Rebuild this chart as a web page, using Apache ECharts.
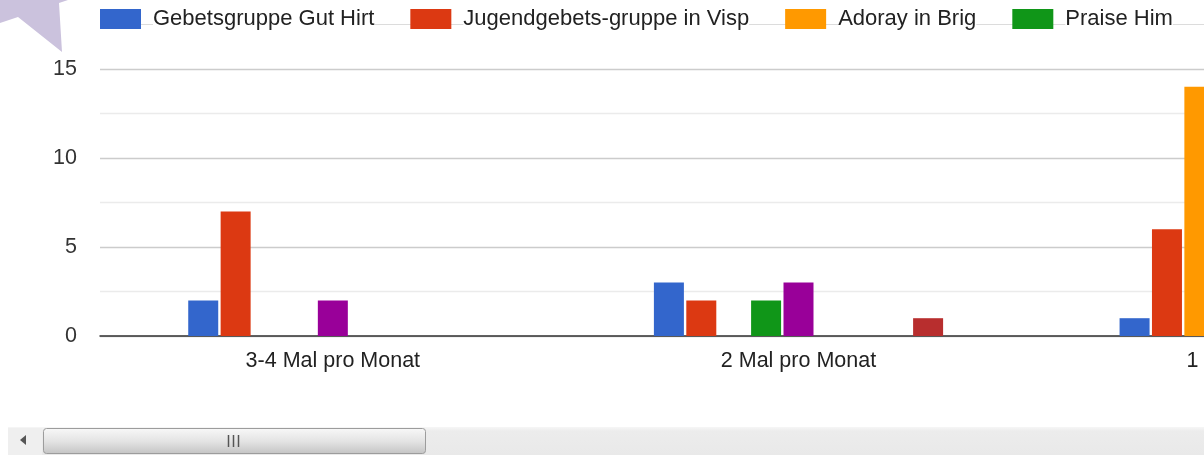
<!DOCTYPE html>
<html>
<head>
<meta charset="utf-8">
<title>Gebetsgruppen</title>
<script src="https://cdn.jsdelivr.net/npm/echarts@6/dist/echarts.min.js"></script>
<style>
    html, body { margin: 0; padding: 0; background: #fff; overflow: hidden; }
    /* Diagramm ist breiter als das Fenster, rechts abgeschnitten wie im Original */
    #chart { width: 1504px; height: 455px; }
</style>
</head>
<body>
<div id="chart"></div>
<script>
    // Kategorien (x-Achse)
    const categories = ['3-4 Mal pro Monat', '2 Mal pro Monat', '1 Mal pro Monat']
    // Namen der Gruppen (nur die ersten vier sind in der Legende sichtbar)
    const groupNames = ['Gebetsgruppe Gut Hirt', 'Jugendgebets-gruppe in Visp', 'Adoray in Brig', 'Praise Him',
        'Gruppe 5', 'Gruppe 6', 'Gruppe 7', 'Gruppe 8', 'Gruppe 9']
    // Werte je Gruppe, pro Kategorie (null = nicht sichtbar / unbekannt)
    const gutHirt = [2, 3, 1]
    const jugendVisp = [7, 2, 6]
    const adorayBrig = [0, 0, 14]
    const praiseHim = [0, 2, null]
    const gruppe5 = [2, 3, null]
    const gruppe6 = [0, 0, null]
    const gruppe7 = [0, 0, null]
    const gruppe8 = [0, 0, null]
    const gruppe9 = [0, 1, null]
    const allValues = [gutHirt, jugendVisp, adorayBrig, praiseHim, gruppe5, gruppe6, gruppe7, gruppe8, gruppe9]
    // y-Achse
    const yTickLabels = [0, 5, 10, 15]

    const colors = ['#3366cc', '#dc3912', '#ff9900', '#109618', '#990099', '#0099c6', '#dd4477', '#66aa00', '#b82e2e']
    const fontFamily = 'Arial, "Liberation Sans", sans-serif'

    const chartInstance = echarts.init(document.getElementById('chart'))

    const option = {
        animation: false,
        color: colors,
        textStyle: { fontFamily: fontFamily },
        legend: {
            data: groupNames.slice(0, 4),
            left: 100,
            top: 7,
            padding: 0,
            itemWidth: 41,
            itemHeight: 20,
            itemGap: 36,
            icon: 'rect',
            formatter: name => '{g|}{t|' + name + '}',
            textStyle: {
                rich: {
                    g: { width: 7 },
                    t: { backgroundColor: '#fff', color: '#222', fontSize: 22, fontFamily: fontFamily, padding: [1, 0, 1, 0] }
                }
            }
        },
        grid: {
            left: 100,
            right: 7,
            top: 69,
            bottom: 119,
            containLabel: false
        },
        xAxis: {
            type: 'category',
            data: categories,
            axisTick: { show: false },
            axisLine: { lineStyle: { color: '#333', width: 1.5 } },
            axisLabel: { color: '#222', fontSize: 21.5, margin: 14 }
        },
        yAxis: {
            type: 'value',
            min: 0,
            max: 15,
            interval: 2.5,
            axisLine: { show: false },
            axisTick: { show: false },
            axisLabel: {
                color: '#333',
                fontSize: 21.5,
                margin: 23,
                formatter: v => yTickLabels.indexOf(v) >= 0 ? String(v) : ''
            },
            splitLine: { lineStyle: { color: ['#cccccc', '#ebebeb'], width: 1.3 } }
        },
        series: allValues.map((values, i) => ({
            name: groupNames[i],
            type: 'bar',
            data: values,
            barWidth: 30,
            barGap: '8%'
        })),
        graphic: [
            // Linie hinter der Legende
            { type: 'line', z: 0, shape: { x1: 141, y1: 24.5, x2: 1504, y2: 24.5 }, style: { stroke: '#dcdcdc', lineWidth: 1 } },
            // lila Stern-Ecke oben links
            { type: 'polygon', z: 10, shape: { points: [[0, 0], [68, 0], [59, 3], [62, 52], [18, 17], [0, 23]] }, style: { fill: '#cbc2dd' } },
            // Scrollleiste unten
            {
                type: 'rect', z: 10, shape: { x: 8, y: 427, width: 1500, height: 28 },
                style: { fill: new echarts.graphic.LinearGradient(0, 0, 0, 1, [{ offset: 0, color: '#f6f6f6' }, { offset: 0.15, color: '#ececec' }, { offset: 1, color: '#e9e9e9' }]) }
            },
            { type: 'rect', z: 11, shape: { x: 8, y: 428, width: 34, height: 27 }, style: { fill: '#efefef' } },
            { type: 'polygon', z: 12, shape: { points: [[20, 440], [26, 435], [26, 445]] }, style: { fill: '#555' } },
            {
                type: 'rect', z: 12, shape: { x: 43.5, y: 428.5, width: 382, height: 25, r: 3 },
                style: {
                    fill: new echarts.graphic.LinearGradient(0, 0, 0, 1, [{ offset: 0, color: '#f8f8f8' }, { offset: 0.5, color: '#e4e4e4' }, { offset: 1, color: '#c4c4c4' }]),
                    stroke: '#9c9c9c', lineWidth: 1
                }
            },
            { type: 'line', z: 13, shape: { x1: 228.5, y1: 435, x2: 228.5, y2: 447 }, style: { stroke: '#555', lineWidth: 1.5 } },
            { type: 'line', z: 13, shape: { x1: 233.5, y1: 435, x2: 233.5, y2: 447 }, style: { stroke: '#555', lineWidth: 1.5 } },
            { type: 'line', z: 13, shape: { x1: 238.5, y1: 435, x2: 238.5, y2: 447 }, style: { stroke: '#555', lineWidth: 1.5 } }
        ]
    }

    chartInstance.setOption(option)
</script>
</body>
</html>
